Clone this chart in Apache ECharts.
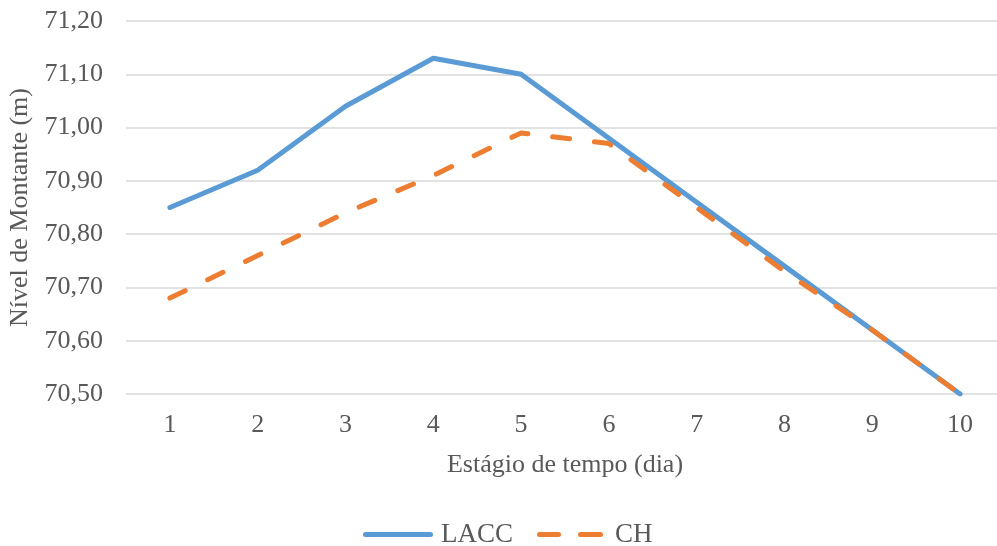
<!DOCTYPE html>
<html>
<head>
<meta charset="utf-8">
<script src="https://cdn.jsdelivr.net/npm/echarts@6/dist/echarts.min.js"></script>
<style>
  html, body { margin: 0; padding: 0; background: #fff; }
  #chart { width: 997px; height: 546px; }
</style>
</head>
<body>
<div id="chart"></div>
<script>
// Time stages (days)
const stages = ['1', '2', '3', '4', '5', '6', '7', '8', '9', '10'];
// Upstream water level (m) per method
const lacc = [70.85, 70.92, 71.04, 71.13, 71.10, 70.98, 70.86, 70.74, 70.62, 70.50];
const ch = [70.68, 70.76, 70.84, 70.91, 70.99, 70.97, 70.85, 70.73, 70.62, 70.50];

const FONT = '"Liberation Serif", "DejaVu Serif", serif';
const TEXT = '#595959';
const BLUE = '#5b9bd5';
const ORANGE = '#ed7d31';

// Legend glyphs: a solid stroke and a two-dash stroke
const solidIcon = 'path://M2.5,0H67.5A2.5,2.5 0 0 1 67.5,5H2.5A2.5,2.5 0 0 1 2.5,0Z';
const dashIcon = 'path://M2.5,0H21.5A2.5,2.5 0 0 1 21.5,5H2.5A2.5,2.5 0 0 1 2.5,0Z' +
  'M43.5,0H63.5A2.5,2.5 0 0 1 63.5,5H43.5A2.5,2.5 0 0 1 43.5,0Z' +
  'M69.9,0H70V5H69.9Z';

const chart = echarts.init(document.getElementById('chart'));
chart.setOption({
  animation: false,
  backgroundColor: '#ffffff',
  grid: { left: 126, top: 21, height: 373, width: 878, outerBoundsMode: 'none', containLabel: false },
  xAxis: {
    type: 'category',
    data: stages,
    boundaryGap: true,
    axisLine: { show: false },
    axisTick: { show: false },
    axisLabel: { color: TEXT, fontFamily: FONT, fontSize: 26, margin: 18 },
    name: 'Estágio de tempo (dia)',
    nameLocation: 'middle',
    nameGap: 58,
    nameTextStyle: { color: TEXT, fontFamily: FONT, fontSize: 26 }
  },
  yAxis: {
    type: 'value',
    min: 70.5,
    max: 71.2,
    interval: 0.1,
    axisLine: { show: false },
    axisTick: { show: false },
    splitLine: { lineStyle: { color: '#d9d9d9', width: 1.5 } },
    axisLabel: {
      color: TEXT, fontFamily: FONT, fontSize: 26, margin: 23,
      formatter: v => v.toFixed(2).replace('.', ',')
    },
    name: 'Nível de Montante (m)',
    nameLocation: 'middle',
    nameGap: 91,
    nameTextStyle: { color: TEXT, fontFamily: FONT, fontSize: 26 }
  },
  legend: {
    top: 516,
    left: 358,
    itemWidth: 70,
    itemHeight: 5,
    itemGap: 24,
    textStyle: { color: TEXT, fontFamily: FONT, fontSize: 27, padding: [0, 0, 0, 3] },
    data: [
      { name: 'LACC', icon: solidIcon, itemStyle: { color: BLUE } },
      { name: 'CH', icon: dashIcon, itemStyle: { color: ORANGE } }
    ]
  },
  series: [
    {
      name: 'LACC',
      type: 'line',
      data: lacc,
      symbol: 'none',
      color: BLUE,
      lineStyle: { width: 5, color: BLUE, cap: 'round', join: 'round' }
    },
    {
      name: 'CH',
      type: 'line',
      data: ch,
      symbol: 'none',
      color: ORANGE,
      lineStyle: { width: 5, color: ORANGE, type: [17, 25], cap: 'round', join: 'round' }
    }
  ]
});
</script>
</body>
</html>
